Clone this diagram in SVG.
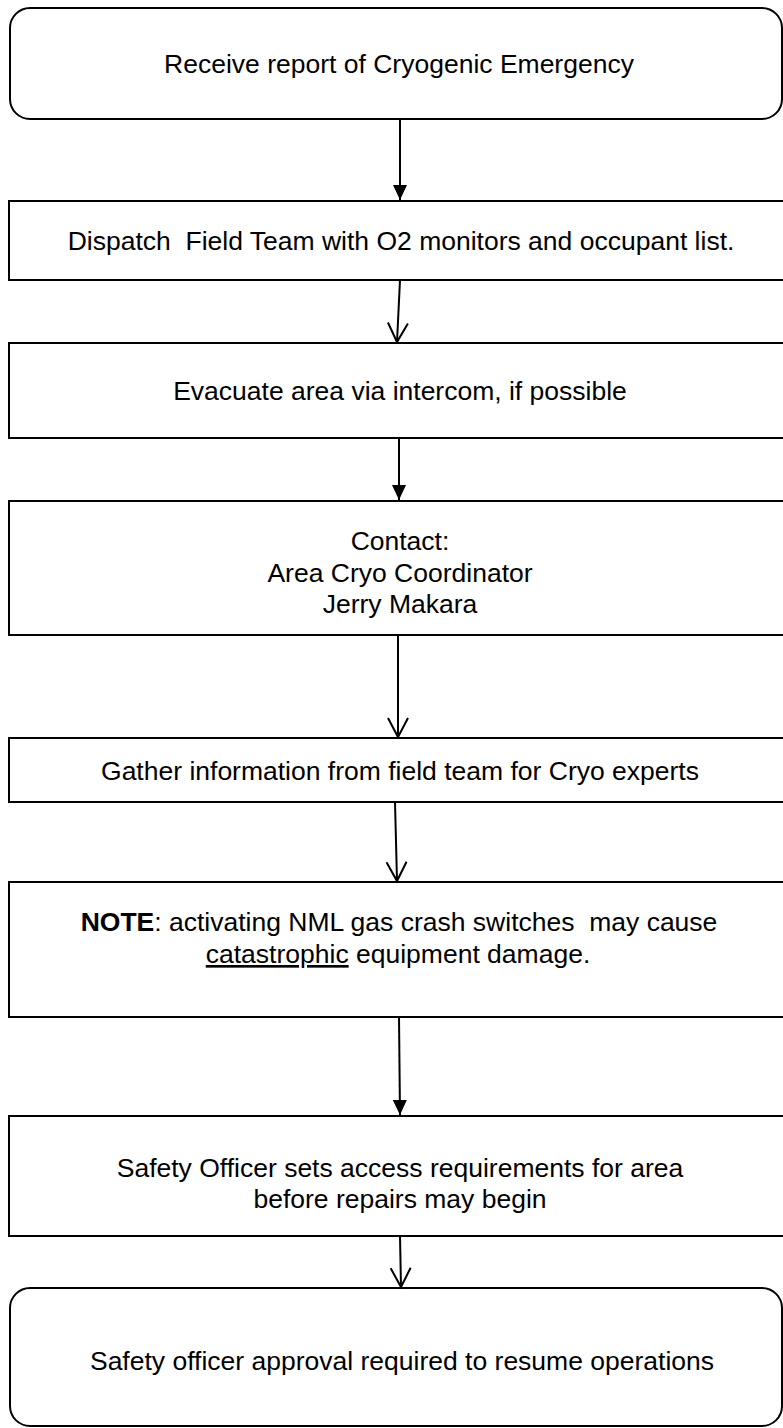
<svg xmlns="http://www.w3.org/2000/svg" width="783" height="1428" viewBox="0 0 783 1428">
<style>
.box{fill:#fff;stroke:#000;stroke-width:2}
.t{font-family:"Liberation Sans",Arial,sans-serif;font-size:26.5px;fill:#000;text-anchor:middle;white-space:pre}
.c{stroke:#000;stroke-width:2;fill:none}
</style>
<defs>
<marker id="fill" markerUnits="userSpaceOnUse" viewBox="0 0 15 14" markerWidth="15" markerHeight="14" refX="15" refY="7" orient="auto">
<path d="M0,0 L15,7 L0,14 z" fill="#000"/>
</marker>
<marker id="open" markerUnits="userSpaceOnUse" viewBox="-2 -2 24 24" markerWidth="24" markerHeight="24" refX="19" refY="10" orient="auto" overflow="visible">
<path d="M0,0 L19,10 L0,20" fill="none" stroke="#000" stroke-width="2"/>
</marker>
</defs>
<g id="n1"><rect class="box" x="10" y="8" width="772" height="111" rx="20"/><text class="t" x="399" y="73">Receive report of Cryogenic Emergency</text></g>
<g id="n2"><rect class="box" x="9" y="201" width="790" height="79"/><text class="t" x="401" y="250" xml:space="preserve">Dispatch  Field Team with O2 monitors and occupant list.</text></g>
<g id="n3"><rect class="box" x="9" y="343" width="790" height="95"/><text class="t" x="400" y="400">Evacuate area via intercom, if possible</text></g>
<g id="n4"><rect class="box" x="9" y="501" width="790" height="134"/><text class="t" x="400" y="550">Contact:</text><text class="t" x="400" y="582">Area Cryo Coordinator</text><text class="t" x="400" y="613">Jerry Makara</text></g>
<g id="n5"><rect class="box" x="9" y="738" width="790" height="64"/><text class="t" x="400" y="780">Gather information from field team for Cryo experts</text></g>
<g id="n6"><rect class="box" x="9" y="882" width="790" height="135"/><text class="t" x="399" y="931" xml:space="preserve"><tspan font-weight="bold">NOTE</tspan>: activating NML gas crash switches  may cause</text><text class="t" x="398" y="963"><tspan text-decoration="underline">catastrophic</tspan> equipment damage.</text></g>
<g id="n7"><rect class="box" x="9" y="1116" width="790" height="120"/><text class="t" x="400" y="1177">Safety Officer sets access requirements for area</text><text class="t" x="400" y="1208">before repairs may begin</text></g>
<g id="n8"><rect class="box" x="10" y="1288" width="772" height="138" rx="20"/><text class="t" x="402" y="1370">Safety officer approval required to resume operations</text></g>
<g id="connectors">
<line class="c" x1="400" y1="119" x2="400" y2="200" marker-end="url(#fill)"/>
<line class="c" x1="400" y1="280" x2="397" y2="342" marker-end="url(#open)"/>
<line class="c" x1="399" y1="438" x2="399" y2="500" marker-end="url(#fill)"/>
<line class="c" x1="398" y1="635" x2="398" y2="737" marker-end="url(#open)"/>
<line class="c" x1="395" y1="802" x2="397" y2="881" marker-end="url(#open)"/>
<line class="c" x1="399" y1="1017" x2="400" y2="1115" marker-end="url(#fill)"/>
<line class="c" x1="400" y1="1236" x2="401" y2="1287" marker-end="url(#open)"/>
</g>
</svg>
